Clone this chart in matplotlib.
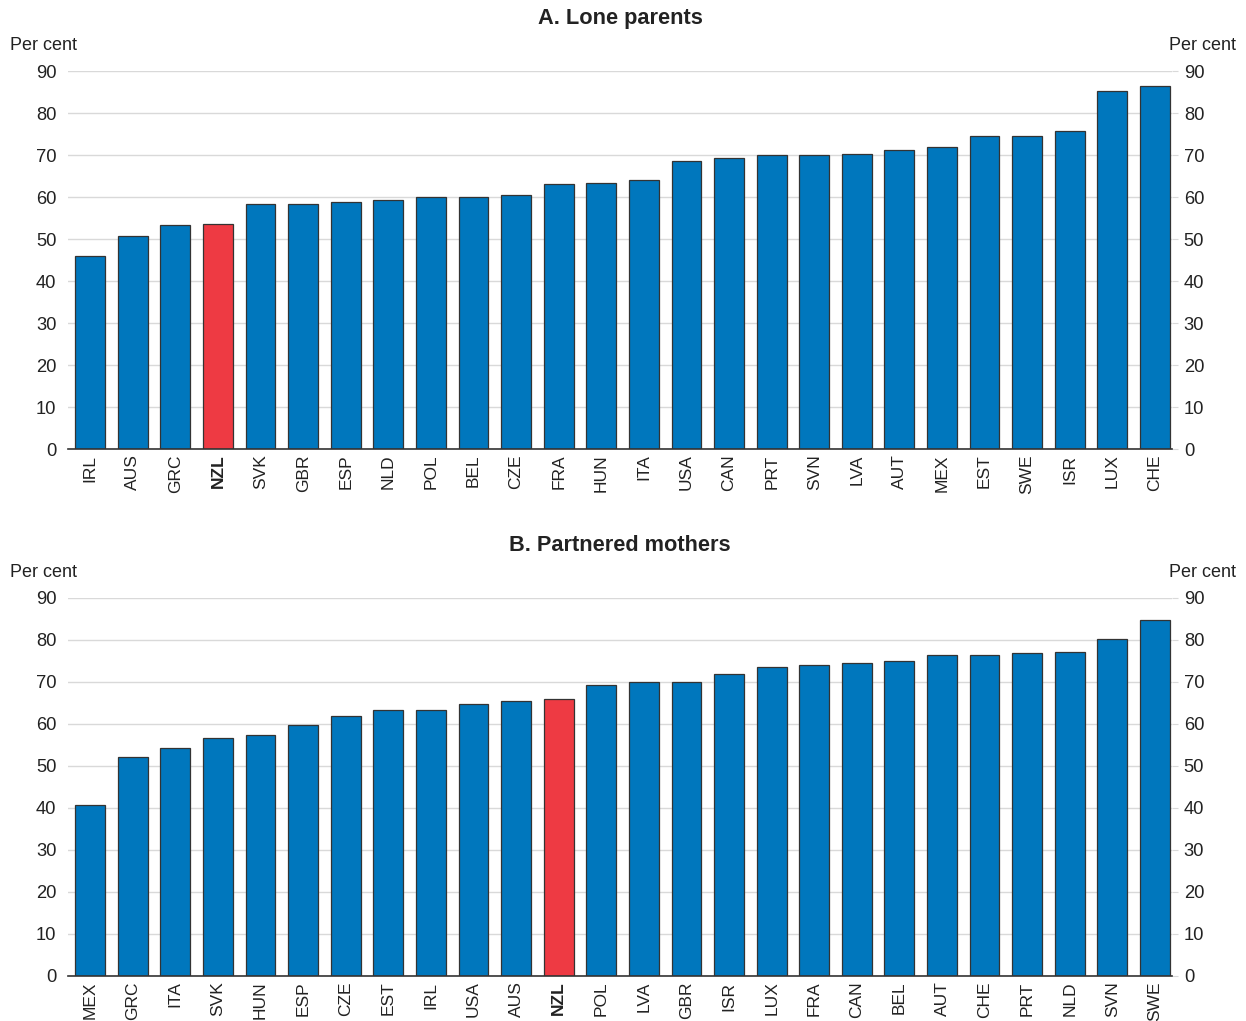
import matplotlib
matplotlib.use("Agg")
import matplotlib.pyplot as plt

plt.rcParams['font.family'] = ['Liberation Sans', 'DejaVu Sans']

# Panel A: lone parents
lone_countries = ["IRL", "AUS", "GRC", "NZL", "SVK", "GBR", "ESP", "NLD", "POL", "BEL",
                  "CZE", "FRA", "HUN", "ITA", "USA", "CAN", "PRT", "SVN", "LVA", "AUT",
                  "MEX", "EST", "SWE", "ISR", "LUX", "CHE"]
lone_values = [46.0, 50.7, 53.4, 53.6, 58.3, 58.3, 58.8, 59.2, 60.1, 60.1,
               60.5, 63.1, 63.3, 64.0, 68.5, 69.2, 69.9, 70.0, 70.3, 71.2,
               71.9, 74.5, 74.6, 75.8, 85.2, 86.4]

# Panel B: partnered mothers
partner_countries = ["MEX", "GRC", "ITA", "SVK", "HUN", "ESP", "CZE", "EST", "IRL", "USA",
                     "AUS", "NZL", "POL", "LVA", "GBR", "ISR", "LUX", "FRA", "CAN", "BEL",
                     "AUT", "CHE", "PRT", "NLD", "SVN", "SWE"]
partner_values = [40.7, 52.1, 54.2, 56.6, 57.3, 59.7, 61.9, 63.3, 63.3, 64.8,
                  65.5, 65.9, 69.2, 70.0, 70.1, 71.8, 73.5, 74.1, 74.5, 75.1,
                  76.4, 76.5, 76.8, 77.2, 80.2, 84.7]

yticks = [0, 10, 20, 30, 40, 50, 60, 70, 80, 90]

BLUE = "#0077BD"
RED = "#EE3A43"
TXT = "#222222"
GRID = "#D9D9D9"

fig = plt.figure(figsize=(12.46, 10.21), dpi=100)


def panel(rect, countries, values, title):
    ax = fig.add_axes(rect)
    x = range(len(countries))
    colors = [RED if c == "NZL" else BLUE for c in countries]
    ax.bar(x, values, width=0.7, color=colors, edgecolor="#333333", linewidth=0.9, zorder=3)
    ax.set_ylim(0, 90)
    ax.set_xlim(-0.52, len(countries) - 0.6)
    ax.set_yticks(yticks)
    ax.yaxis.grid(True, color=GRID, linewidth=1.0, zorder=0)
    ax.set_axisbelow(True)
    for s in ["top", "left", "right"]:
        ax.spines[s].set_visible(False)
    ax.spines["bottom"].set_color("#333333")
    ax.spines["bottom"].set_linewidth(1.2)
    ax.spines["bottom"].set_zorder(4)
    ax.tick_params(axis="y", which="both", left=True, right=True, labelleft=True,
                   labelright=True, length=4, color=GRID, labelsize=13.2,
                   labelcolor=TXT, pad=4.5)
    for t in ax.yaxis.get_major_ticks():
        t.tick1line.set_visible(False)
    ax.set_xticks(list(x))
    ax.set_xticklabels(countries, rotation=90, fontsize=12.5, color=TXT)
    ax.tick_params(axis="x", length=0, pad=4)
    for lab in ax.get_xticklabels():
        if lab.get_text() == "NZL":
            lab.set_fontweight("bold")
    ax.text(0.5, 1.14, title, transform=ax.transAxes, ha="center", va="center",
            fontsize=15.7, fontweight="bold", color=TXT)
    ax.text(-0.053, 1.067, "Per cent", transform=ax.transAxes, ha="left", va="center",
            fontsize=13, color=TXT)
    ax.text(0.997, 1.067, "Per cent", transform=ax.transAxes, ha="left", va="center",
            fontsize=13, color=TXT)
    return ax


panel([0.0546, 0.5602, 0.886, 0.3702], lone_countries, lone_values, "A. Lone parents")
panel([0.0546, 0.0441, 0.886, 0.3702], partner_countries, partner_values, "B. Partnered mothers")

fig.savefig("out.png", dpi=100)
